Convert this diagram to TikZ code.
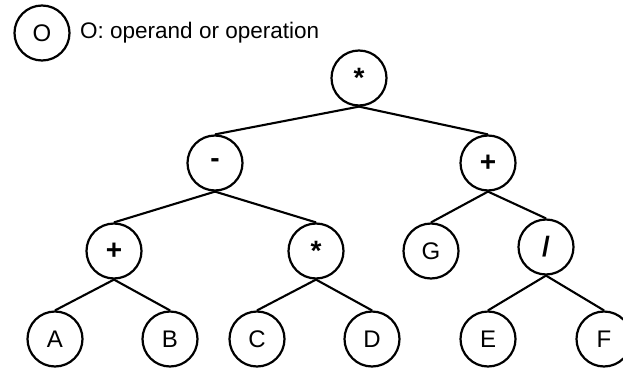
\documentclass[tikz,border=0pt]{standalone}
\usepackage{fontspec}
\setmainfont{Liberation Sans}
\begin{document}
\begin{tikzpicture}[x=1pt,y=-1pt,
  tn/.style={draw, circle, line width=2.2pt, minimum size=55pt, inner sep=0pt,
             font=\fontsize{24}{26}\selectfont},
  sym/.style={tn, font=\fontsize{28}{30}\selectfont\bfseries},
  edge/.style={line width=2.1pt}]
\useasboundingbox (0,0) rectangle (623,369);
% legend
\node[tn] (leg) at (42,33) {O};
\node[anchor=west, inner sep=0pt, font=\fontsize{22.5}{24}\selectfont] (legtext) at (80,33) {O: operand or operation};
% tree nodes
\node[sym] (root) at (359,78) {*};
\node[sym] (minus) at (215,163) {-};
\node[sym] (plusR) at (488,163) {+};
\node[sym] (plusL) at (114,251) {+};
\node[sym] (starM) at (316,251) {*};
\node[tn] (G) at (431,251) {G};
\node[sym] (slash) at (546,247) {/};
\node[tn] (A) at (55,339) {A};
\node[tn] (B) at (170,339) {B};
\node[tn] (C) at (257,339) {C};
\node[tn] (D) at (372,339) {D};
\node[tn] (E) at (488,339) {E};
\node[tn] (F) at (604,339) {F};
% edges
\draw[edge] (root.south) -- (minus.north);
\draw[edge] (root.south) -- (plusR.north);
\draw[edge] (minus.south) -- (plusL.north);
\draw[edge] (minus.south) -- (starM.north);
\draw[edge] (plusR.south) -- (G.north);
\draw[edge] (plusR.south) -- (slash.north);
\draw[edge] (plusL.south) -- (A.north);
\draw[edge] (plusL.south) -- (B.north);
\draw[edge] (starM.south) -- (C.north);
\draw[edge] (starM.south) -- (D.north);
\draw[edge] (slash.south) -- (E.north);
\draw[edge] (slash.south) -- (F.north);
\end{tikzpicture}
\end{document}
